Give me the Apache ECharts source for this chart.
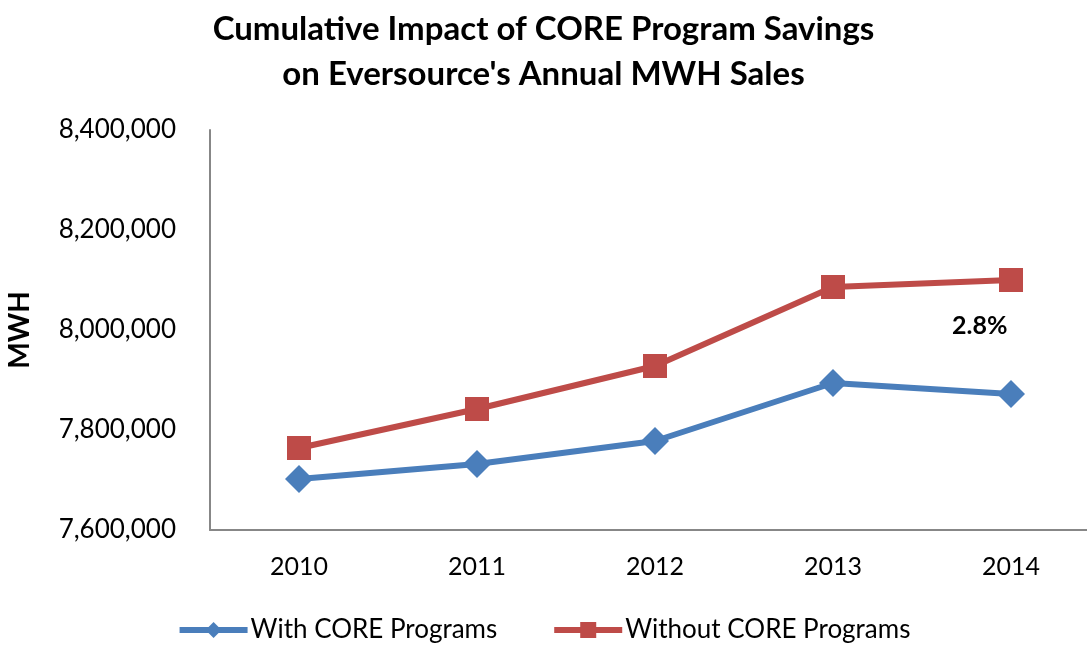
<!DOCTYPE html>
<html><head><meta charset="utf-8">
<script src="https://cdn.jsdelivr.net/npm/echarts@6/dist/echarts.min.js"></script>
<style>html,body{margin:0;padding:0;background:#fff}#c{width:1087px;height:648px}</style>
</head><body><div id="c"></div>
<script>
const categories = ['2010','2011','2012','2013','2014'];
const withCore = [7702000, 7732000, 7778000, 7894000, 7872000];
const withoutCore = [7764000, 7842000, 7928000, 8086000, 8100000];
const yMin = 7600000, yMax = 8400000, yStep = 200000;
const annotation = '2.8%';
const FONT = 'Lato';

const chart = echarts.init(document.getElementById('c'));
chart.setOption({
  animation: false,
  backgroundColor: '#fff',
  title: {
    text: 'Cumulative Impact of CORE Program Savings\non Eversource\'s Annual MWH Sales',
    left: 'center', top: 2,
    textStyle: {fontFamily: FONT, fontWeight: 'bold', fontSize: 33, lineHeight: 45, color: '#000'}
  },
  grid: {left: 210, width: 890, top: 130, height: 400, containLabel: false, outerBoundsMode: 'none'},
  legend: {
    bottom: 0, left: 'center',
    itemWidth: 68, itemHeight: 20, itemGap: 54,
    lineStyle: {width: 6},
    textStyle: {fontFamily: FONT, fontSize: 26, color: '#000', padding: [0,0,0,-2]},
    data: ['With CORE Programs', 'Without CORE Programs']
  },
  xAxis: {
    type: 'category', data: categories, boundaryGap: true,
    axisLine: {lineStyle: {color: '#878787', width: 2}},
    axisTick: {show: false},
    axisLabel: {fontFamily: FONT, fontSize: 25, color: '#000', margin: 24}
  },
  yAxis: {
    type: 'value', min: yMin, max: yMax, interval: yStep,
    name: 'MWH', nameLocation: 'middle', nameGap: 176, nameRotate: 90,
    nameTextStyle: {fontFamily: FONT, fontWeight: 'bold', fontSize: 28, color: '#000'},
    axisLine: {show: true, lineStyle: {color: '#878787', width: 2}},
    axisTick: {show: false},
    splitLine: {show: false},
    axisLabel: {fontFamily: FONT, fontSize: 26, color: '#000', margin: 34,
      formatter: v => v.toLocaleString('en-US')}
  },
  series: [
    {name: 'With CORE Programs', type: 'line', data: withCore,
     symbol: 'diamond', symbolSize: 28,
     lineStyle: {color: '#4a7ebb', width: 6}, itemStyle: {color: '#4a7ebb'}},
    {name: 'Without CORE Programs', type: 'line', data: withoutCore,
     symbol: 'rect', symbolSize: 24,
     lineStyle: {color: '#be4b48', width: 6}, itemStyle: {color: '#be4b48'}}
  ]
});
const p = chart.convertToPixel({xAxisIndex: 0, yAxisIndex: 0}, ['2014', 8006000]);
chart.setOption({graphic: [{type: 'text', left: p[0] - 59, top: p[1] - 14,
  style: {text: annotation, fontFamily: FONT, fontWeight: 'bold', fontSize: 25, fill: '#000'}}]});
</script></body></html>
